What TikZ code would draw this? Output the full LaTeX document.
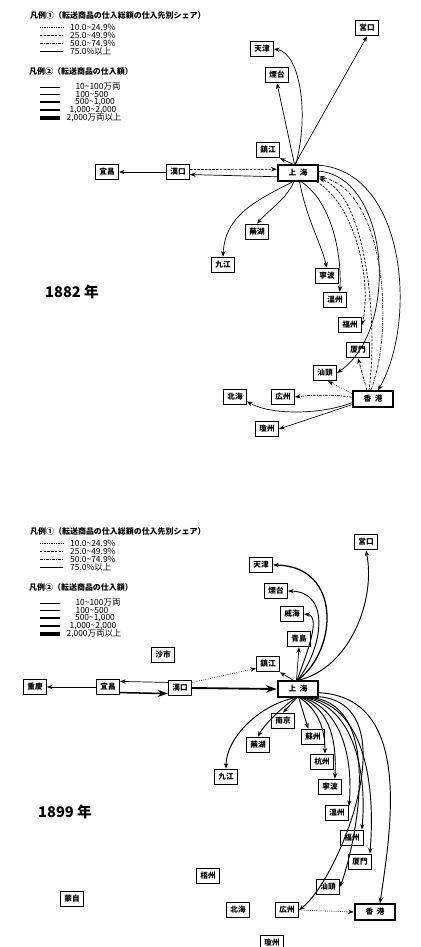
\documentclass[tikz,border=0pt]{standalone}
\usepackage{fontspec}
\newfontfamily\jp{Noto Sans CJK JP}
\usetikzlibrary{arrows.meta}

\begin{document}
\begin{tikzpicture}[x=0.03cm, y=-0.03cm,
  port/.style={draw, line width=0.8pt, minimum width=0.69cm, minimum height=0.47cm, inner sep=0.5pt, font=\jp\fontsize{6.5}{6.5}\selectfont\bfseries},
  hub/.style={port, line width=1.5pt, minimum width=1.22cm},
  link/.style={-{Stealth[length=1.7mm, width=1.3mm]}, line width=0.6pt},
  heavy/.style={-{Stealth[length=3.2mm, width=2.2mm]}, line width=1.6pt},
  s10/.style={link, densely dotted, line width=0.5pt},
  s25/.style={link, dash pattern=on 2pt off 1.2pt},
  s50/.style={link, dash pattern=on 2.5pt off 1pt on 0.6pt off 1pt},
  legtxt/.style={font=\jp\fontsize{7.2}{7.5}\selectfont, inner sep=0pt},
  legtitle/.style={font=\jp\fontsize{6.8}{7}\selectfont\bfseries, inner sep=0pt},
  year/.style={font=\jp\fontsize{12.5}{12.5}\selectfont\bfseries, inner sep=0pt}]
\useasboundingbox (0,0) rectangle (421,947);

\foreach \dy/\p in {0/a,516/b}{
  \node[legtitle, anchor=west] (ti1\p) at (30,{15+\dy}) {凡例①（転送商品の仕入総額の仕入先別シェア）};
  \draw[densely dotted, line width=0.5pt] (40,{27+\dy}) -- (63,{27+\dy});
  \draw[dash pattern=on 2pt off 1.2pt, line width=0.8pt] (40,{35+\dy}) -- (63,{35+\dy});
  \draw[dash pattern=on 2.5pt off 1pt on 0.6pt off 1pt, line width=0.8pt] (40,{43+\dy}) -- (63,{43+\dy});
  \draw[line width=0.8pt] (40,{51+\dy}) -- (63,{51+\dy});
  \node[legtxt, anchor=west] (la\p) at (70,{27+\dy}) {10.0\textasciitilde24.9\%};
  \node[legtxt, anchor=west] (lb\p) at (70,{35+\dy}) {25.0\textasciitilde49.9\%};
  \node[legtxt, anchor=west] (lc\p) at (70,{43+\dy}) {50.0\textasciitilde74.9\%};
  \node[legtxt, anchor=west] (ld\p) at (70,{51+\dy}) {75.0\%以上};
  \node[legtitle, anchor=west] (ti2\p) at (29,{71+\dy}) {凡例②（転送商品の仕入額）};
  \draw[line width=0.6pt] (40,{87+\dy}) -- (60,{87+\dy});
  \draw[line width=1pt] (40,{94.5+\dy}) -- (60,{94.5+\dy});
  \draw[line width=1.5pt] (40,{102+\dy}) -- (60,{102+\dy});
  \draw[line width=2.2pt] (40,{110+\dy}) -- (60,{110+\dy});
  \draw[line width=3pt] (40,{118+\dy}) -- (60,{118+\dy});
  \node[legtxt] (lw1\p) at (98,{87+\dy}) {10\textasciitilde100万両};
  \node[legtxt] (lw2\p) at (92,{94.5+\dy}) {100\textasciitilde500};
  \node[legtxt] (lw3\p) at (95,{102+\dy}) {500\textasciitilde1,000};
  \node[legtxt] (lw4\p) at (93,{110+\dy}) {1,000\textasciitilde2,000};
  \node[legtxt] (lw5\p) at (94,{118+\dy}) {2,000万両以上};
}

\node[year] (yr1) at (72,292) {1882 年};
\node[year] (yr2) at (65,812) {1899 年};

\node[port] (ying1) at (367,28) {営口};
\node[port] (tian1) at (262,49) {天津};
\node[port] (yan1) at (277,75) {煙台};
\node[port] (zhen1) at (268,150) {鎮江};
\node[hub] (sha1) at (298,173) {上\hspace{3pt}海};
\node[port] (yi1) at (107,172) {宜昌};
\node[port] (han1) at (178,172) {漢口};
\node[port] (wuhu1) at (257,232) {蕪湖};
\node[port] (jiu1) at (223,265) {九江};
\node[port] (ning1) at (327,276) {寧波};
\node[port] (wen1) at (335,300) {温州};
\node[port] (fu1) at (350,325) {福州};
\node[port] (xia1) at (358,350) {厦門};
\node[port] (shan1) at (325,373) {汕頭};
\node[hub] (hk1) at (373,399) {香\hspace{3pt}港};
\node[port] (guang1) at (283,397) {広州};
\node[port] (bei1) at (235,397) {北海};
\node[port] (qiong1) at (267,429) {瓊州};

\draw[link] (sha1.110) -- (ying1.south);
\draw[link] (sha1.105) .. controls +(14,-50) and +(26,4) .. (tian1.east);
\draw[link] (sha1.112) -- (yan1.south);
\draw[link] (sha1.118) -- (zhen1.south east);
\draw[link] (han1.west) -- (yi1.east);
\draw[s25] (han1.12) -- (sha1.170);
\draw[link] (sha1.190) -- (han1.348);
\draw[link] (sha1.245) .. controls +(-8,18) and +(12,-14) .. (wuhu1.north);
\draw[link] (sha1.240) .. controls +(-40,20) and +(2,-40) .. (jiu1.north);
\draw[link] (sha1.280) .. controls +(8,40) and +(-8,-30) .. (ning1.north);
\draw[link] (sha1.290) .. controls +(30,20) and +(2,-40) .. (wen1.60);
\draw[link] (sha1.20) .. controls (405,172) and (418,320) .. (hk1.60);
\draw[link] (sha1.5) .. controls (390,178) and (400,330) .. (shan1.east);
\draw[s50] (hk1.105) .. controls (395,330) and (385,190) .. (sha1.350);
\draw[s25] (hk1.115) .. controls (378,330) and (368,195) .. (sha1.345);
\draw[s25] (sha1.335) .. controls (355,205) and (372,280) .. (fu1.east);
\draw[s50] (hk1.125) -- (xia1.south);
\draw[s10] (hk1.165) -- (shan1.290);
\draw[s50] (hk1.175) .. controls +(-20,-3) and +(15,-2) .. (guang1.east);
\draw[link] (hk1.190) .. controls (320,415) and (270,415) .. (bei1.-20);
\draw[link] (hk1.195) -- (qiong1.east);

\node[port] (ying2) at (366,542) {営口};
\node[port] (tian2) at (261,565) {天津};
\node[port] (yan2) at (276,591) {煙台};
\node[port] (wei2) at (292,614) {威海};
\node[port] (qing2) at (299,639) {青島};
\node[port] (zhen2) at (268,664) {鎮江};
\node[hub] (sha2) at (298,689) {上\hspace{3pt}海};
\node[port] (sashi2) at (163,655) {沙市};
\node[port] (chong2) at (35,687) {重慶};
\node[port] (yi2) at (108,687) {宜昌};
\node[port] (han2) at (180,688) {漢口};
\node[port] (nan2) at (283,721) {南京};
\node[port] (su2) at (313,737) {蘇州};
\node[port] (wuhu2) at (258,745) {蕪湖};
\node[port] (hang2) at (322,762) {杭州};
\node[port] (jiu2) at (226,777) {九江};
\node[port] (ning2) at (330,787) {寧波};
\node[port] (wen2) at (337,813) {温州};
\node[port] (fu2) at (352,838) {福州};
\node[port] (xia2) at (360,862) {厦門};
\node[port] (shan2) at (328,887) {汕頭};
\node[port] (wu2) at (208,876) {梧州};
\node[port] (meng2) at (72,899) {蒙自};
\node[port] (bei2) at (238,910) {北海};
\node[port] (guang2) at (287,910) {広州};
\node[hub] (hk2) at (375,912) {香\hspace{3pt}港};
\node[port] (qiong2) at (272,943) {瓊州};

\draw[link] (yi2.west) -- (chong2.east);
\draw[link] (han2.155) -- (yi2.25);
\draw[heavy, line width=1.3pt] (yi2.335) -- (han2.205);
\draw[heavy] (han2.east) -- (sha2.west);
\draw[s10] (han2.25) -- (zhen2.200);
\draw[link] (sha2.118) -- (zhen2.south east);
\draw[link] (sha2.100) -- (qing2.south);
\draw[link, line width=0.8pt] (sha2.96) .. controls (306,655) and (322,616) .. (wei2.east);
\draw[link, line width=0.8pt] (sha2.94) .. controls (322,650) and (332,592) .. (yan2.east);
\draw[link, line width=1.1pt] (sha2.92) .. controls (338,650) and (342,566) .. (tian2.east);
\draw[link, line width=0.8pt] (sha2.88) .. controls (350,668) and (376,600) .. (ying2.south);

\draw[link, line width=0.8pt] (sha2.250) .. controls +(-37,8) and +(0,-30) .. (jiu2.north);
\draw[link, line width=0.8pt] (sha2.255) .. controls +(-14,10) and +(6,-12) .. (wuhu2.north);
\draw[link, line width=0.8pt] (sha2.262) -- (nan2.north);
\draw[link, line width=0.8pt] (sha2.275) -- (su2.120);
\draw[link, line width=0.8pt] (sha2.282) .. controls +(18,12) and +(0,-25) .. (hang2.70);
\draw[link, line width=0.8pt] (sha2.290) .. controls +(30,12) and +(2,-35) .. (ning2.60);
\draw[link, line width=0.8pt] (sha2.300) .. controls +(40,12) and +(4,-45) .. (wen2.30);
\draw[link, line width=0.8pt] (sha2.310) .. controls +(50,10) and +(5,-55) .. (fu2.40);
\draw[link, line width=0.8pt] (sha2.320) .. controls +(60,10) and +(5,-60) .. (xia2.40);
\draw[link, line width=0.8pt] (sha2.330) .. controls +(72,10) and +(15,-40) .. (shan2.east);
\draw[link, line width=0.8pt] (sha2.340) .. controls +(90,8) and +(40,-30) .. (guang2.east);
\draw[link, line width=0.8pt] (sha2.350) .. controls +(95,5) and +(10,-70) .. (hk2.60);
\draw[s10] (guang2.east) -- (hk2.west);
\end{tikzpicture}
\end{document}
